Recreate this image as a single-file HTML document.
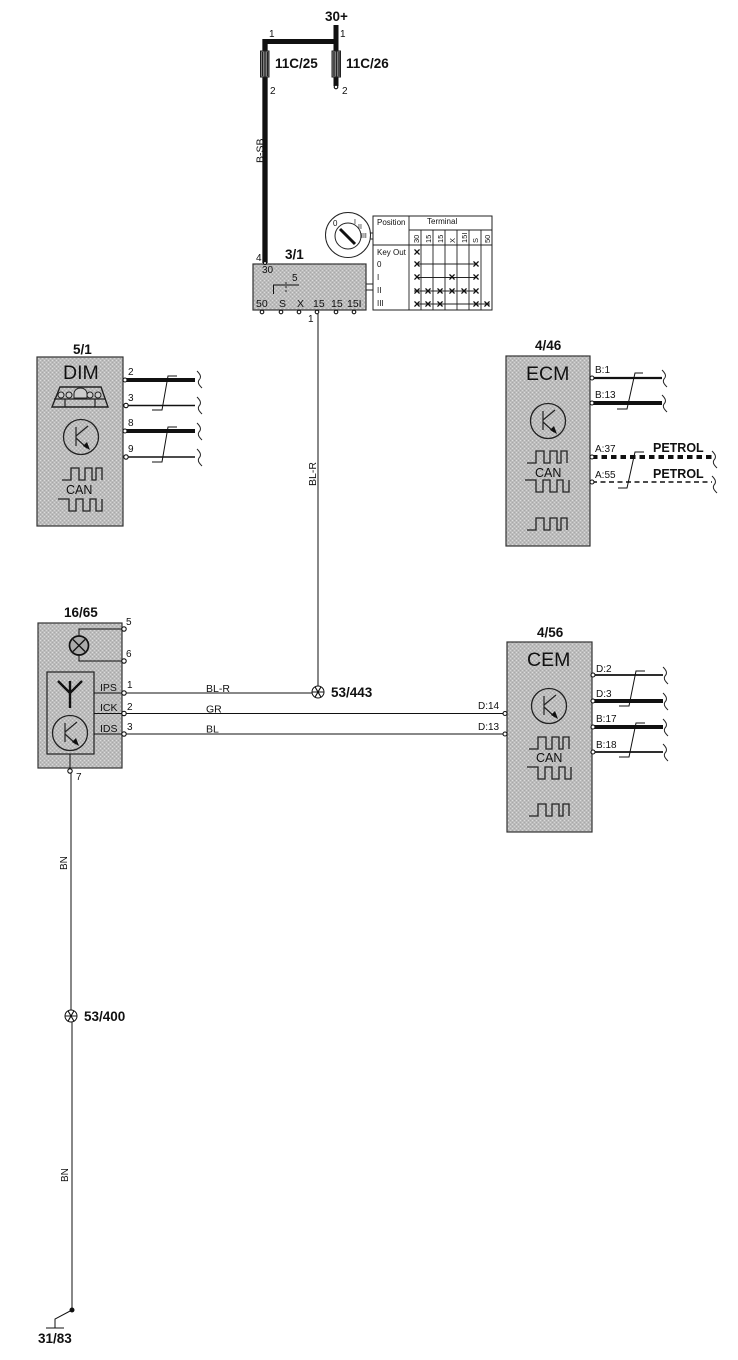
<!DOCTYPE html>
<html><head><meta charset="utf-8"><style>
html,body{margin:0;padding:0;background:#fff}
svg{display:block}
text{font-family:"Liberation Sans",sans-serif;fill:#111}
.b{font-weight:bold;font-size:13.5px}
.s{font-size:10px}
.m{font-size:10.5px}
.n{font-size:19.5px}
.can{font-size:12.5px}
.pe{font-size:12.5px;font-weight:bold}
.w{fill:none;stroke:#111}
.c{fill:#fff;stroke:#111;stroke-width:1.1}
.t{fill:none;stroke:#111;stroke-width:1}
.box{fill:url(#g);stroke:#333;stroke-width:1.2}
.x{font-size:12px;text-anchor:middle;font-weight:bold}
</style></head><body>
<svg width="738" height="1360" viewBox="0 0 738 1360" xmlns="http://www.w3.org/2000/svg">
<defs>
<pattern id="g" width="4" height="4" patternUnits="userSpaceOnUse">
<rect width="4" height="4" fill="#bcbcbc"/>
<rect x="0" y="0" width="1" height="1" fill="#dcdcdc"/><rect x="2" y="2" width="1" height="1" fill="#d4d4d4"/>
<rect x="2" y="0" width="1" height="1" fill="#a8a8a8"/><rect x="0" y="2" width="1" height="1" fill="#a8a8a8"/>
</pattern>
<g id="tr"><circle r="17.5" fill="none" stroke="#222" stroke-width="1.3"/><path d="M-5 -10V9M-5 -1L7 -11M-5 1L6 11" fill="none" stroke="#222" stroke-width="1.2"/><path d="M9 13L2 9L6 5Z" fill="#111"/></g>
<path id="p1" d="M-20 0H-11V-12H-3V0H3V-12H10V0H14V-12H20V0" fill="none" stroke="#222" stroke-width="1.3"/>
<path id="p2" d="M-24 -12H-13V0H-6V-12H1V0H8V-12H14V0H20V-12" fill="none" stroke="#222" stroke-width="1.3"/>
<path id="sq" d="M0 0C3 3 5 6 2 9C0 12 3 15 5 17" fill="none" stroke="#222" stroke-width="1"/>
<g id="star"><circle r="6" fill="#fff" stroke="#111"/><path d="M-6 0H6M-3 -5.2L3 5.2M-3 5.2L3 -5.2" stroke="#111" stroke-width="1.1"/></g>
</defs>

<!-- Top power -->
<text class="b" x="325" y="21">30+</text>
<path class="w" stroke-width="5" d="M336 25V86M263 41.500H336"/>
<path class="w" stroke-width="5.300" d="M265 39V263"/>
<rect x="260.500" y="51" width="8.500" height="26" fill="#888" stroke="#222"/>
<rect x="332" y="51" width="8.500" height="26" fill="#888" stroke="#222"/>
<path d="M262.500 52V76M265 51V77M267.500 52V76M334 52V76M336.500 51V77M339 52V76" stroke="#222" stroke-width="1.200"/>
<circle class="c" cx="336" cy="87" r="1.800"/>
<text class="s" x="269" y="37">1</text><text class="s" x="340" y="37">1</text>
<text class="s" x="270" y="94">2</text><text class="s" x="342" y="94">2</text>
<text class="b" x="275" y="68">11C/25</text>
<text class="b" x="346" y="68">11C/26</text>
<text class="m" transform="translate(263.500,163) rotate(-90)">B-SB</text>

<!-- Ignition switch -->
<text class="s" x="256" y="261">4</text>
<text class="b" x="285" y="259">3/1</text>
<rect class="box" x="253" y="264" width="113" height="46"/>
<circle class="c" cx="265" cy="263" r="1.500"/>
<text class="s" x="262" y="273">30</text>
<path class="t" d="M273.500 294V285H299"/><path d="M286 282V293" stroke="#222" stroke-dasharray="2 2"/>
<text class="s" x="292" y="281">5</text>
<text class="m" x="256" y="307">50</text><text class="m" x="279" y="307">S</text><text class="m" x="297" y="307">X</text><text class="m" x="313" y="307">15</text><text class="m" x="331" y="307">15</text><text class="m" x="347" y="307">15I</text>
<circle class="c" cx="262" cy="312" r="1.800"/><circle class="c" cx="281" cy="312" r="1.800"/><circle class="c" cx="299" cy="312" r="1.800"/><circle class="c" cx="317" cy="312" r="1.800"/><circle class="c" cx="336" cy="312" r="1.800"/><circle class="c" cx="354" cy="312" r="1.800"/>
<text class="s" x="308" y="322">1</text>
<path d="M366 284H373M366 290H373M368 233H373M368 239H373" stroke="#222"/>
<circle cx="348" cy="235" r="22.500" fill="#fff" stroke="#222"/><circle cx="348" cy="236" r="13" fill="#fff" stroke="#222"/>
<path d="M340 229L355 244" stroke="#111" stroke-width="3"/>
<text font-size="8" x="333" y="226">0</text><text font-size="7" x="354" y="224">I</text><text font-size="7" x="358" y="229">II</text><text font-size="7" x="361" y="238">III</text>

<!-- Table -->
<rect x="373" y="216" width="119" height="94" fill="#fff" stroke="#222"/>
<path d="M409 216V310M409 230H492M373 245H492M421 230V310M433 230V310M445 230V310M457 230V310M469 230V310M481 230V310" stroke="#222" stroke-width="0.9" fill="none"/>
<text font-size="8" x="377" y="225">Position</text><text font-size="8" x="427" y="224">Terminal</text>
<g font-size="7.500">
<text transform="translate(419,243) rotate(-90)">30</text><text transform="translate(431,243) rotate(-90)">15</text><text transform="translate(443,243) rotate(-90)">15</text><text transform="translate(455,243) rotate(-90)">X</text><text transform="translate(467,243) rotate(-90)">15I</text><text transform="translate(478,243) rotate(-90)">S</text><text transform="translate(490,243) rotate(-90)">50</text>
</g>
<g font-size="8">
<text x="377" y="255">Key Out</text><text x="377" y="267">0</text><text x="377" y="280">I</text><text x="377" y="293">II</text><text x="377" y="306">III</text>
</g>
<path d="M417 264H476M417 277.500H476M414 291H476M417 304H490" stroke="#222" stroke-width="1.100"/>
<g class="x">
<text x="417" y="256">×</text>
<text x="417" y="268">×</text><text x="476" y="268">×</text>
<text x="417" y="281">×</text><text x="452" y="281">×</text><text x="476" y="281">×</text>
<text x="417" y="295">×</text><text x="428" y="295">×</text><text x="440" y="295">×</text><text x="452" y="295">×</text><text x="464" y="295">×</text><text x="476" y="295">×</text>
<text x="417" y="308">×</text><text x="428" y="308">×</text><text x="440" y="308">×</text><text x="476" y="308">×</text><text x="487" y="308">×</text>
</g>

<!-- BL-R vertical -->
<path class="w" d="M318 314V686" stroke-width="1"/>
<text class="m" transform="translate(316,486) rotate(-90)">BL-R</text>
<use href="#star" x="318" y="692"/>
<text class="b" x="331" y="697">53/443</text>

<!-- DIM -->
<text class="b" x="73" y="354">5/1</text>
<rect class="box" x="37" y="357" width="86" height="169"/>
<text class="n" x="63" y="379">DIM</text>
<path d="M52 407L60 387H101L108 407Z" fill="none" stroke="#222" stroke-width="1.400"/>
<path d="M54 399H106M65 407V399M95 407V399" fill="none" stroke="#222" stroke-width="1.200"/>
<circle cx="61" cy="395" r="3" fill="#ccc" stroke="#222"/><circle cx="69" cy="395" r="3" fill="#ccc" stroke="#222"/><circle cx="90" cy="395" r="3" fill="#ccc" stroke="#222"/><circle cx="98" cy="395" r="3" fill="#ccc" stroke="#222"/>
<path d="M74 398V394C74 386 87 386 87 394V398Z" fill="#ccc" stroke="#222"/>
<use href="#tr" x="81" y="437"/>
<use href="#p1" x="82" y="480"/>
<text class="can" x="66" y="494">CAN</text>
<use href="#p2" x="82" y="511"/>
<path class="w" stroke-width="4" d="M126 380H195M126 431H195"/>
<path class="w" stroke-width="1.600" d="M126 405.500H195M126 457H195"/>
<circle class="c" cx="125" cy="380" r="2"/><circle class="c" cx="126" cy="405.500" r="2.200"/><circle class="c" cx="125" cy="431" r="2"/><circle class="c" cx="126" cy="457" r="2.200"/>
<text class="s" x="128" y="375">2</text><text class="s" x="128" y="401">3</text><text class="s" x="128" y="426">8</text><text class="s" x="128" y="452">9</text>
<path class="t" d="M177 376H168L162 410H152M177 427H168L162 462H152"/>
<use href="#sq" x="197" y="371"/><use href="#sq" x="197" y="397"/><use href="#sq" x="197" y="423"/><use href="#sq" x="197" y="449"/>

<!-- ECM -->
<text class="b" x="535" y="350">4/46</text>
<rect class="box" x="506" y="356" width="84" height="190"/>
<text class="n" x="526" y="380">ECM</text>
<use href="#tr" x="548" y="421"/>
<use href="#p1" x="547" y="463"/>
<text class="can" x="535" y="477">CAN</text>
<use href="#p2" x="549" y="492"/>
<use href="#p1" x="547" y="530"/>
<path class="w" stroke-width="2.200" d="M592 378H662"/>
<path class="w" stroke-width="4" d="M592 403H662"/>
<path class="w" stroke-width="4" stroke-dasharray="5.500 4" d="M592 457H712"/>
<path class="w" stroke-width="1.500" stroke-dasharray="5 3.500" d="M592 482H712"/>
<circle class="c" cx="592" cy="378" r="2"/><circle class="c" cx="592" cy="403" r="2"/><circle class="c" cx="592" cy="457" r="2"/><circle class="c" cx="592" cy="482" r="2"/>
<text class="s" x="595" y="373">B:1</text><text class="s" x="595" y="398">B:13</text><text class="s" x="595" y="452">A:37</text><text class="s" x="595" y="478">A:55</text>
<text class="pe" x="653" y="452">PETROL</text><text class="pe" x="653" y="478">PETROL</text>
<path class="t" d="M643 373H635L627 409H617M644 452H635L627 488H618"/>
<use href="#sq" x="662" y="370"/><use href="#sq" x="662" y="395"/><use href="#sq" x="712" y="451"/><use href="#sq" x="712" y="476"/>

<!-- 16/65 -->
<text class="b" x="64" y="617">16/65</text>
<rect class="box" x="38" y="623" width="84" height="145"/>
<path class="t" d="M79 636V629H124M79 655V661H124"/>
<circle cx="79" cy="645.500" r="9.500" fill="#aaa" stroke="#111" stroke-width="1.700"/>
<path d="M73 639.500L85 651.500M73 651.500L85 639.500" stroke="#111" stroke-width="1.300"/>
<circle class="c" cx="124" cy="629" r="2.200"/><circle class="c" cx="124" cy="661" r="2.200"/>
<text class="s" x="126" y="625">5</text><text class="s" x="126" y="657">6</text>
<rect x="47" y="672" width="47" height="82" fill="none" stroke="#222" stroke-width="1.200"/>
<path d="M58 681L70 693L82 681M70 681V708" fill="none" stroke="#111" stroke-width="2.400"/>
<use href="#tr" x="70" y="733"/>
<text class="m" x="100" y="691">IPS</text><text class="m" x="100" y="711">ICK</text><text class="m" x="100" y="732">IDS</text>
<path class="t" d="M94 693H124M94 713.500H124M94 734H124"/>
<circle class="c" cx="124" cy="693" r="2.200"/><circle class="c" cx="124" cy="713.500" r="2.200"/><circle class="c" cx="124" cy="734" r="2.200"/>
<text class="s" x="127" y="688">1</text><text class="s" x="127" y="710">2</text><text class="s" x="127" y="730">3</text>
<path class="t" d="M126 693H312M126 713.500H503M126 734H503"/>
<text class="m" x="206" y="692">BL-R</text><text class="m" x="206" y="712.500">GR</text><text class="m" x="206" y="732.500">BL</text>
<path class="t" d="M70 754V770"/>
<circle class="c" cx="70" cy="771" r="2.200"/>
<text class="s" x="76" y="780">7</text>
<path class="t" d="M71 773V1010M72 1022V1309"/>
<text class="s" transform="translate(67,870) rotate(-90)">BN</text>
<use href="#star" x="71" y="1016"/>
<text class="b" x="84" y="1021">53/400</text>
<text class="s" transform="translate(68,1182) rotate(-90)">BN</text>
<circle cx="72" cy="1310" r="2.500" fill="#111"/>
<path class="t" d="M72 1310L55 1319V1328M46 1328H64"/>
<text class="b" x="38" y="1343">31/83</text>

<!-- CEM -->
<text class="b" x="537" y="637">4/56</text>
<rect class="box" x="507" y="642" width="85" height="190"/>
<text class="n" x="527" y="666">CEM</text>
<use href="#tr" x="549" y="706"/>
<use href="#p1" x="549" y="749"/>
<text class="can" x="536" y="762">CAN</text>
<use href="#p2" x="551" y="779"/>
<use href="#p1" x="549" y="816"/>
<circle class="c" cx="505" cy="713.500" r="2"/><circle class="c" cx="505" cy="734" r="2"/>
<text class="s" x="478" y="709">D:14</text><text class="s" x="478" y="730">D:13</text>
<path class="w" stroke-width="1.800" d="M594 675H663M594 752H663"/>
<path class="w" stroke-width="4" d="M594 701H663M594 727H663"/>
<circle class="c" cx="593" cy="675" r="2"/><circle class="c" cx="593" cy="701" r="2"/><circle class="c" cx="593" cy="727" r="2"/><circle class="c" cx="593" cy="752" r="2"/>
<text class="s" x="596" y="672">D:2</text><text class="s" x="596" y="697">D:3</text><text class="s" x="596" y="722">B:17</text><text class="s" x="596" y="748">B:18</text>
<path class="t" d="M645 671H636L629 706H619M645 723H636L629 757H619"/>
<use href="#sq" x="663" y="667"/><use href="#sq" x="663" y="693"/><use href="#sq" x="663" y="719"/><use href="#sq" x="663" y="744"/>
</svg>
</body></html>
